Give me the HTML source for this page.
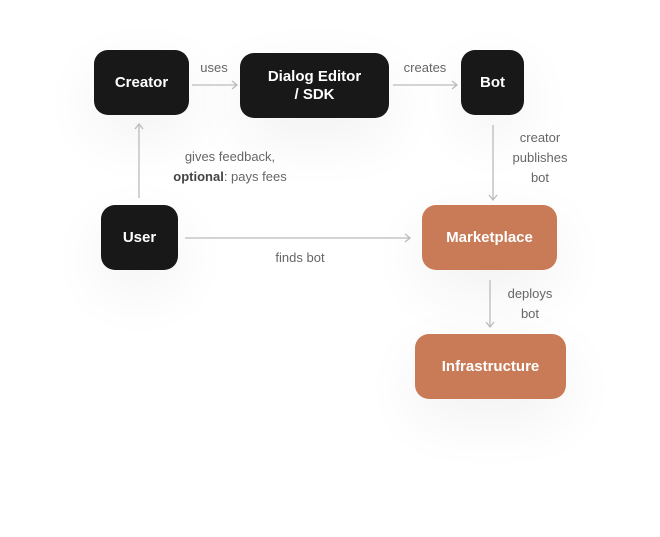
<!DOCTYPE html>
<html><head><style>
body{margin:0;width:660px;height:537px;background:#fff;position:relative;overflow:hidden;font-family:"Liberation Sans",sans-serif}
.n{position:absolute;border-radius:14px;background:#181818;color:#fff;font-size:15px;font-weight:bold;display:flex;align-items:center;justify-content:center;text-align:center;line-height:18px;box-shadow:0 20px 60px rgba(0,0,0,0.06)}
.o{background:#c97b57}
.l{position:absolute;color:#666;font-size:13px;text-align:center;line-height:20px}
svg{position:absolute;left:0;top:0}
</style></head><body>
<div class="n" style="left:94px;top:50px;width:95px;height:65px">Creator</div>
<div class="n" style="left:240px;top:53px;width:149px;height:65px">Dialog Editor<br>/ SDK</div>
<div class="n" style="left:461px;top:50px;width:63px;height:65px">Bot</div>
<div class="n" style="left:101px;top:205px;width:77px;height:65px">User</div>
<div class="n o" style="left:422px;top:205px;width:135px;height:65px">Marketplace</div>
<div class="n o" style="left:415px;top:334px;width:151px;height:65px">Infrastructure</div>
<svg width="660" height="537" fill="none" stroke="#bbb" stroke-width="1.3">
<path d="M192 85H237M232 81L237 85L232 89"/>
<path d="M393 85H457M452 81L457 85L452 89"/>
<path d="M493 125V200M489 195L493 200L497 195"/>
<path d="M139 198V124M135 129L139 124L143 129"/>
<path d="M185 238H410M405 234L410 238L405 242"/>
<path d="M490 280V327M486 322L490 327L494 322"/>
</svg>
<div class="l" style="left:194px;top:58px;width:40px">uses</div>
<div class="l" style="left:395px;top:58px;width:60px">creates</div>
<div class="l" style="left:500px;top:128px;width:80px">creator<br>publishes<br>bot</div>
<div class="l" style="left:150px;top:147px;width:160px">gives feedback,<br><b style="color:#444">optional</b>: pays fees</div>
<div class="l" style="left:260px;top:248px;width:80px">finds bot</div>
<div class="l" style="left:495px;top:284px;width:70px">deploys<br>bot</div>
</body></html>
